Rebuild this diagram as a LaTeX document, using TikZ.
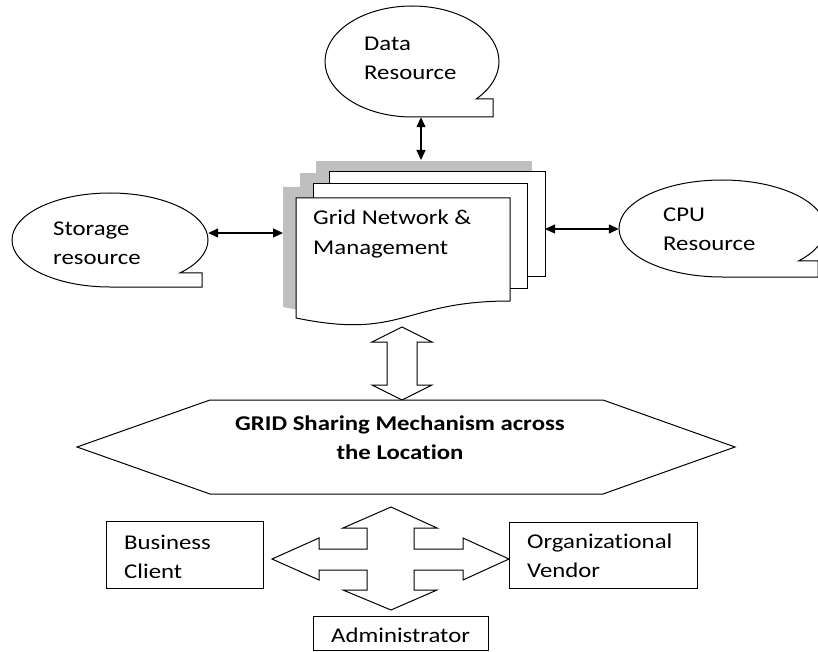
\documentclass[tikz,border=0pt]{standalone}
\usepackage{fontspec}
\setmainfont{Carlito}[FakeStretch=1.18, Ligatures=NoCommon]
\usetikzlibrary{arrows.meta,shapes.geometric}

\tikzset{
  outline/.style={draw=black, line width=1pt, fill=white, line join=miter},
  boxnode/.style={draw=black, line width=1pt, fill=white, anchor=north west, inner sep=0pt},
  label/.style={anchor=base west, align=left, inner sep=0pt, font=\fontsize{21}{29}\selectfont},
  link/.style={line width=1.3pt, {Triangle[length=10pt,width=9pt]}-{Triangle[length=10pt,width=9pt]}},
  shadowfill/.style={fill=black!25, draw=none},
  anchorshape/.style={ellipse, inner sep=0pt, draw=none}
}

% oval callout with a small square tail at the lower right
% #1,#2 centre, #3,#4 radii, #5 angle where the tail leaves the oval, #6 x of the tail corner
\newcommand\ovalcallout[6]{%
  \draw[outline] (#1,#2) ++(0,#4)
    arc[start angle=90, end angle={360+#5}, x radius=#3, y radius=#4]
    -- (#6,{#2+#4*sin(#5)}) -- (#6,{#2+#4}) -- cycle;
}

\begin{document}
\begin{tikzpicture}[x=1pt,y=-1pt]
\path[use as bounding box] (0,0) rectangle (818,652);
\clip (0,0) rectangle (818,652);

% resource callouts (labels are placed at the baseline of their last line)
\node[anchorshape, minimum width=174pt, minimum height=111pt] (data) at (412,61.5) {};
\node[anchorshape, minimum width=196pt, minimum height=94pt] (storage) at (110,240) {};
\node[anchorshape, minimum width=206pt, minimum height=97pt] (cpu) at (722,228.5) {};
\ovalcallout{412}{61.5}{87}{55.5}{42.5}{493}
\ovalcallout{110}{240}{98}{47}{44.6}{202}
\ovalcallout{722}{228.5}{103}{48.5}{42}{818}
\node[label] (datatxt) at (364,80) {Data\\Resource};
\node[label] (storagetxt) at (53,264) {Storage\\resource};
\node[label] (cputxt) at (663,251) {CPU\\Resource};

% stacked documents with their grey shadow
\begin{scope}[shift={(-13,-11)}]
  \fill[shadowfill] (329,172) rectangle (545,276);
  \fill[shadowfill] (313,184) rectangle (527,288);
  \fill[shadowfill] (296,198) -- (510,198) -- (510,301)
    .. controls (403,301) and (403,340) .. (296,318) -- cycle;
\end{scope}
\draw[outline] (329,172) rectangle (545,276);
\draw[outline] (313,184) rectangle (527,288);
\draw[outline] (296,198) -- (510,198) -- (510,301)
  .. controls (403,301) and (403,340) .. (296,318) -- cycle;
\node[label] (stacktxt) at (313,254) {Grid Network \&\\Management};
\coordinate (stackN) at (421,160);
\coordinate (stackW) at (283,233);
\coordinate (stackE) at (545,229);

% links between the resources and the grid
\draw[link] (data.south -| stackN) -- (stackN);
\draw[link] (storage.east |- stackW) -- (stackW);
\draw[link] (stackE) -- (cpu.west |- stackE);

% block double arrow down to the sharing mechanism
\draw[outline] (402,327) -- (432,342) -- (417,342) -- (417,385) -- (432,385)
  -- (402,400) -- (372,385) -- (387,385) -- (387,342) -- (372,342) -- cycle;

% sharing mechanism hexagon
\draw[outline] (77,447) -- (210,400) -- (603,400) -- (735,447) -- (603,494) -- (210,494) -- cycle;
\node[anchor=base, align=center, inner sep=0pt, font=\fontsize{21}{29}\selectfont\bfseries]
  (hex) at (400,459) {GRID Sharing Mechanism across\\the Location};

% four-way block arrow
\draw[outline] (391,507) -- (437,528) -- (414,528) -- (414,549) -- (463,549) -- (463,538)
  -- (509,559) -- (463,580) -- (463,570) -- (414,570) -- (414,590) -- (437,590)
  -- (391,610) -- (343,590) -- (367,590) -- (367,570) -- (319,570) -- (319,580)
  -- (272,559) -- (319,538) -- (319,549) -- (367,549) -- (367,528) -- (343,528) -- cycle;

% parties
\node[boxnode, minimum width=157pt, minimum height=67pt] (client) at (106,521) {};
\node[label] (clienttxt) at (124,578) {Business\\Client};
\node[boxnode, minimum width=188pt, minimum height=66pt] (vendor) at (509,522) {};
\node[label] (vendortxt) at (527,577) {Organizational\\Vendor};
\node[boxnode, minimum width=175pt, minimum height=34pt] (admin) at (313,616) {};
\node[label] (admintxt) at (331,642) {Administrator};
\end{tikzpicture}
\end{document}
